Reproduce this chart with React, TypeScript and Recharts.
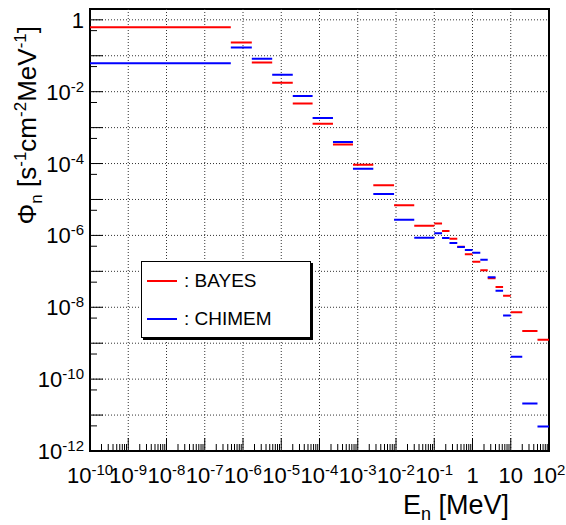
import React from 'react';
import { ComposedChart, Line, XAxis, YAxis, ReferenceLine, ReferenceArea } from 'recharts';

// energy bin edges (MeV)
const binEdges = [
  1e-10, 4.8e-7, 1.7e-6, 5.8e-6, 2.0e-5, 6.6e-5, 2.25e-4, 7.5e-4, 2.55e-3, 8.9e-3, 3.0e-2,
  0.1, 0.16, 0.25, 0.4, 0.63, 1.0, 1.6, 2.5, 4.0, 6.3, 10, 20, 50, 100,
];

// flux per bin, s-1 cm-2 MeV-1
const bayesFlux = [
  0.625, 0.233, 0.0647, 0.0176, 0.00467, 0.00129, 3.37e-4, 9.3e-5, 2.48e-5, 6.87e-6, 1.86e-6,
  2.16e-6, 1.33e-6, 8.1e-7, 4.8e-7, 3.0e-7, 1.85e-7, 1.07e-7, 6.4e-8, 3.65e-8, 2.1e-8,
  7.3e-9, 2.2e-9, 1.25e-9,
];
const chimemFlux = [
  0.0622, 0.169, 0.082, 0.0294, 0.00764, 0.00186, 4.0e-4, 7.2e-5, 1.42e-5, 2.74e-6, 8.6e-7,
  1.15e-6, 8.5e-7, 6.1e-7, 4.75e-7, 3.9e-7, 3.3e-7, 2.1e-7, 6.9e-8, 2.9e-8, 5.9e-9,
  4.2e-10, 2.1e-11, 4.8e-12,
];

const xDecades = [-10, -9, -8, -7, -6, -5, -4, -3, -2, -1, 0, 1, 2];
const yDecades = [-12, -11, -10, -9, -8, -7, -6, -5, -4, -3, -2, -1, 0];

const series = [
  { name: 'BAYES', color: '#ff0000', values: bayesFlux },
  { name: 'CHIMEM', color: '#0000ff', values: chimemFlux },
];

const FONT = '"Liberation Sans", Arial, Helvetica, sans-serif';

// histogram bins as flat segments, broken by nulls
const toSteps = (values: number[]) => {
  const pts: { e: number; v: number | null }[] = [];
  values.forEach((v, i) => {
    pts.push({ e: binEdges[i], v });
    pts.push({ e: binEdges[i + 1], v });
    pts.push({ e: binEdges[i + 1], v: null });
  });
  return pts;
};

const xTicks: number[] = [];
xDecades.forEach((d) => {
  xTicks.push(Number(`1e${d}`));
  if (d < 2) for (let k = 2; k <= 9; k++) xTicks.push(Number(`${k}e${d}`));
});
const yTicks: number[] = [];
yDecades.forEach((d) => {
  yTicks.push(Number(`1e${d}`));
  if (d < 0) yTicks.push(Number(`5e${d}`));
});

const decadeOf = (v: number) => {
  const l = Math.log10(v);
  const e = Math.round(l);
  return { e, major: Math.abs(l - e) < 1e-6 };
};

const Pow = ({ e, plainUpTo }: { e: number; plainUpTo: number }) => {
  if (e === 0) return <tspan>1</tspan>;
  if (e === 1 && plainUpTo >= 1) return <tspan>10</tspan>;
  return (
    <>
      <tspan>10</tspan>
      <tspan dy={-8} fontSize={15}>{e}</tspan>
    </>
  );
};

const XTick = (props: any) => {
  const { x, y, payload } = props;
  const { e, major } = decadeOf(payload.value);
  return (
    <g>
      <line x1={x} x2={x} y1={y} y2={y - (major ? 13 : 7)} stroke="#000" />
      {major && (
        <text x={x} y={y + 32} textAnchor="middle" fontSize={22} fontFamily={FONT} fill="#000">
          <Pow e={e} plainUpTo={1} />
        </text>
      )}
    </g>
  );
};

const YTick = (props: any) => {
  const { x, y, payload } = props;
  const { e, major } = decadeOf(payload.value);
  return (
    <g>
      <line x1={x} x2={x + (major ? 13 : 7)} y1={y} y2={y} stroke="#000" />
      {major && e % 2 === 0 && (
        <text x={x - 6} y={y + 8} textAnchor="end" fontSize={22} fontFamily={FONT} fill="#000">
          <Pow e={e} plainUpTo={0} />
        </text>
      )}
    </g>
  );
};

const XTitle = (props: any) => {
  const vb = props.viewBox || {};
  return (
    <text x={vb.x + vb.width - 40} y={vb.y + 63} textAnchor="end" fontSize={27} fontFamily={FONT} fill="#000">
      <tspan>E</tspan>
      <tspan dy={6} fontSize={18}>n</tspan>
      <tspan dy={-6}> [MeV]</tspan>
    </text>
  );
};

const YTitle = (props: any) => {
  const vb = props.viewBox || {};
  const x = vb.x + 36;
  const y = vb.y + 17;
  return (
    <text x={x} y={y} transform={`rotate(-90, ${x}, ${y})`} textAnchor="end" fontSize={26} fontFamily={FONT} fill="#000">
      <tspan>Φ</tspan>
      <tspan dy={6} fontSize={17}>n</tspan>
      <tspan dy={-6}> [s</tspan>
      <tspan dy={-10} fontSize={17}>-1</tspan>
      <tspan dy={10}>cm</tspan>
      <tspan dy={-10} fontSize={17}>-2</tspan>
      <tspan dy={10}>MeV</tspan>
      <tspan dy={-10} fontSize={17}>-1</tspan>
      <tspan dy={10}>]</tspan>
    </text>
  );
};

const grid = { stroke: '#333', strokeDasharray: '1 2', strokeWidth: 1 };

export default function App() {
  return (
    <div style={{ position: 'absolute', left: 0, top: 0, width: 566, height: 525, background: '#fff' }}>
      <ComposedChart width={566} height={525} margin={{ top: 9, right: 17, bottom: 0, left: 0 }}>
        <XAxis
          dataKey="e"
          type="number"
          scale="log"
          domain={[1e-10, 100]}
          allowDataOverflow
          ticks={xTicks}
          interval={0}
          tick={(p: any) => <XTick {...p} />}
          tickLine={false}
          axisLine={false}
          tickSize={0}
          tickMargin={0}
          height={74}
          label={<XTitle />}
        />
        <YAxis
          dataKey="v"
          type="number"
          scale="log"
          domain={[1e-12, 2]}
          allowDataOverflow
          ticks={yTicks}
          interval={0}
          tick={(p: any) => <YTick {...p} />}
          tickLine={false}
          axisLine={false}
          tickSize={0}
          tickMargin={0}
          width={90}
          label={<YTitle />}
        />
        {xDecades.slice(1, -1).map((d) => (
          <ReferenceLine key={`gx${d}`} x={Number(`1e${d}`)} {...grid} />
        ))}
        {yDecades.slice(1).map((d) => (
          <ReferenceLine key={`gy${d}`} y={Number(`1e${d}`)} {...grid} />
        ))}
        {series.map((s) => (
          <Line
            key={s.name}
            data={toSteps(s.values)}
            dataKey="v"
            name={s.name}
            type="linear"
            stroke={s.color}
            strokeWidth={2}
            dot={false}
            activeDot={false}
            connectNulls={false}
            isAnimationActive={false}
          />
        ))}
        <ReferenceArea x1={1e-10} x2={100} y1={1e-12} y2={2} fill="none" stroke="#000" strokeWidth={2} />
      </ComposedChart>
      <div
        style={{
          position: 'absolute',
          left: 141,
          top: 261,
          width: 168,
          height: 75,
          border: '1px solid #000',
          boxShadow: '2px 2px 0 #000',
          background: '#fff',
          fontFamily: FONT,
          fontSize: 19,
        }}
      >
        {series.map((s, i) => (
          <div key={s.name} style={{ position: 'absolute', left: 5, top: 9 + i * 38, height: 20, display: 'flex', alignItems: 'center' }}>
            <div style={{ width: 30, height: 2, background: s.color }} />
            <span style={{ marginLeft: 7 }}>: {s.name}</span>
          </div>
        ))}
      </div>
    </div>
  );
}
